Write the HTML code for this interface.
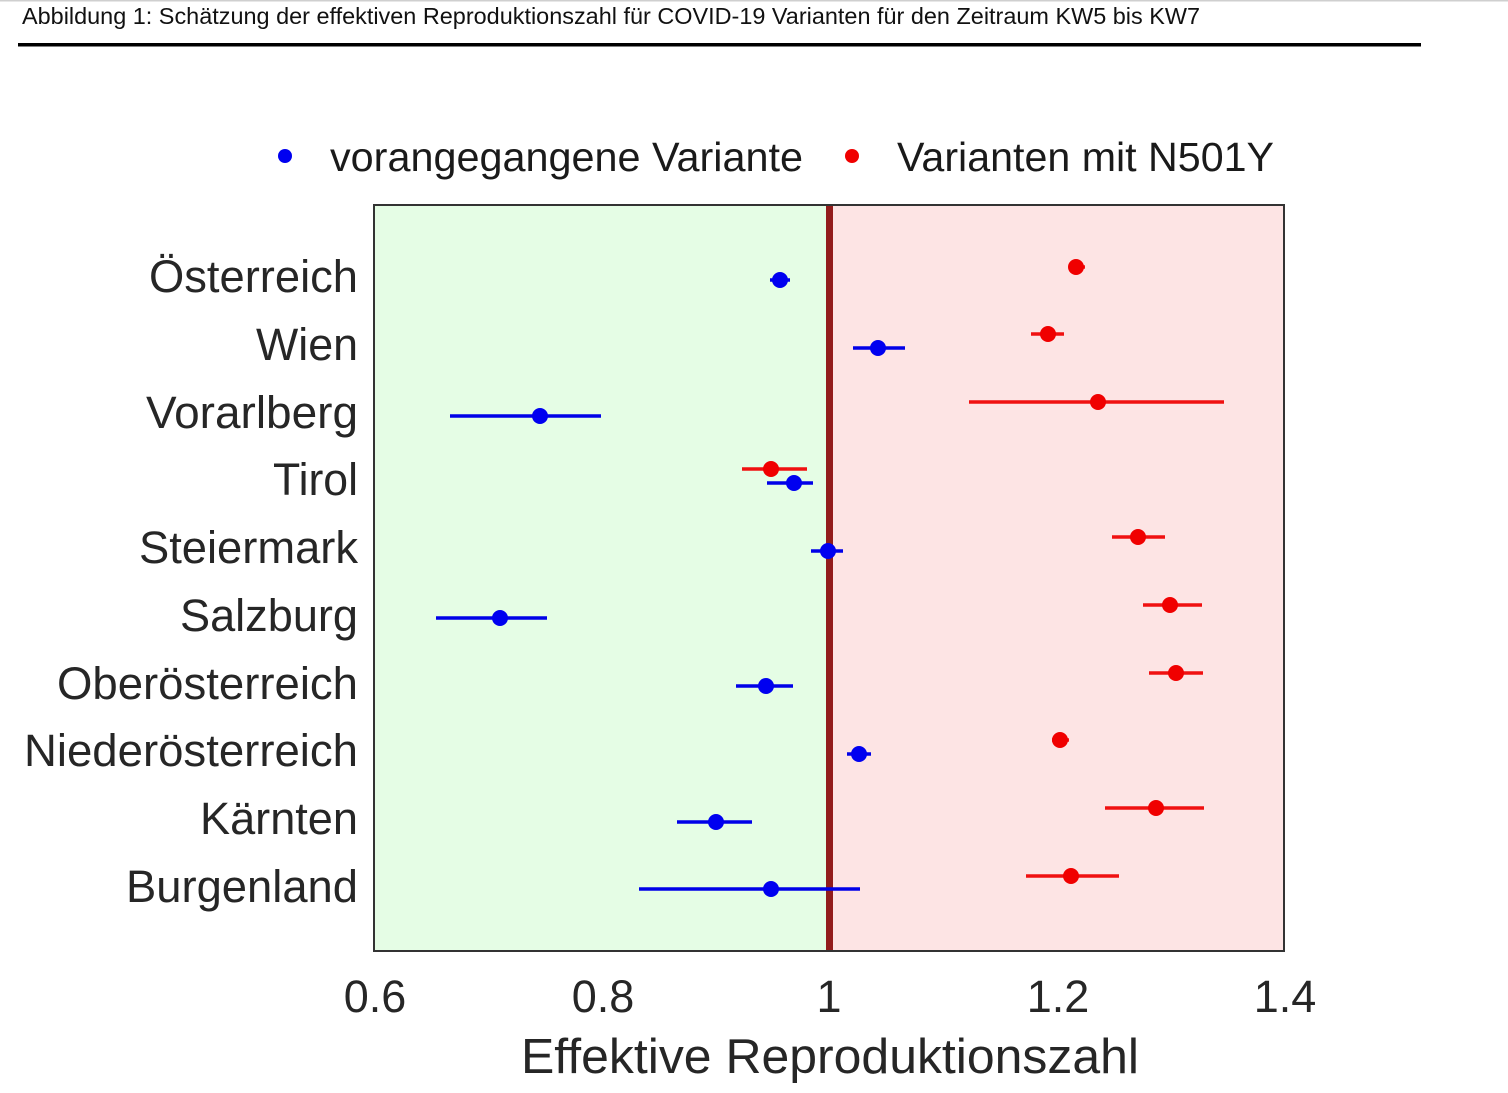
<!DOCTYPE html>
<html>
<head>
<meta charset="utf-8">
<style>
  html, body { margin: 0; padding: 0; background: #ffffff; }
  body { width: 1508px; height: 1093px; overflow: hidden; }
  svg { display: block; }
  text { font-family: "Liberation Sans", Arial, sans-serif; }
</style>
</head>
<body>
<svg width="1508" height="1093" viewBox="0 0 1508 1093" xmlns="http://www.w3.org/2000/svg">
  <rect x="0" y="0" width="1508" height="1093" fill="#ffffff"/>
  <!-- top thin gray line -->
  <rect x="0" y="0" width="1508" height="1.5" fill="#cfcfcf"/>
  <!-- title -->
  <text x="22" y="24" font-size="23" fill="#111111" textLength="1178" lengthAdjust="spacingAndGlyphs">Abbildung 1: Schätzung der effektiven Reproduktionszahl für COVID-19 Varianten für den Zeitraum KW5 bis KW7</text>
  <rect x="18" y="43" width="1403" height="3.5" fill="#000000"/>

  <!-- legend -->
  <circle cx="285" cy="156" r="7" fill="#0000f0"/>
  <text x="330" y="171" font-size="41" fill="#1a1a1a" textLength="473" lengthAdjust="spacingAndGlyphs">vorangegangene Variante</text>
  <circle cx="852" cy="156" r="7" fill="#f00000"/>
  <text x="897" y="171" font-size="41" fill="#1a1a1a" textLength="377" lengthAdjust="spacingAndGlyphs">Varianten mit N501Y</text>

  <!-- plot backgrounds -->
  <rect x="374" y="205" width="455.5" height="746" fill="#e5fde5"/>
  <rect x="829.5" y="205" width="454.5" height="746" fill="#fde4e4"/>
  <!-- reference line -->
  <rect x="826" y="205" width="7" height="746" fill="#931c1c"/>
  <!-- frame -->
  <rect x="374" y="205" width="910" height="746" fill="none" stroke="#333333" stroke-width="2"/>

  <!-- error bars: blue -->
  <g stroke="#0000e8" stroke-width="3.5" fill="none">
    <line x1="770" y1="280" x2="790" y2="280"/>
    <line x1="853" y1="348" x2="905" y2="348"/>
    <line x1="450" y1="416" x2="601" y2="416"/>
    <line x1="767" y1="483" x2="813" y2="483"/>
    <line x1="811" y1="551" x2="843" y2="551"/>
    <line x1="436" y1="618" x2="547" y2="618"/>
    <line x1="736" y1="686" x2="793" y2="686"/>
    <line x1="847" y1="754" x2="871" y2="754"/>
    <line x1="677" y1="822" x2="752" y2="822"/>
    <line x1="639" y1="889" x2="860" y2="889"/>
  </g>
  <g fill="#0000f0">
    <circle cx="780" cy="280" r="8"/>
    <circle cx="878" cy="348" r="8"/>
    <circle cx="540" cy="416" r="8"/>
    <circle cx="794" cy="483" r="8"/>
    <circle cx="828" cy="551" r="8"/>
    <circle cx="500" cy="618" r="8"/>
    <circle cx="766" cy="686" r="8"/>
    <circle cx="859" cy="754" r="8"/>
    <circle cx="716" cy="822" r="8"/>
    <circle cx="771" cy="889" r="8"/>
  </g>

  <!-- error bars: red -->
  <g stroke="#f01010" stroke-width="3.5" fill="none">
    <line x1="1069" y1="267" x2="1085" y2="267"/>
    <line x1="1031" y1="334" x2="1064" y2="334"/>
    <line x1="969" y1="402" x2="1224" y2="402"/>
    <line x1="742" y1="469" x2="807" y2="469"/>
    <line x1="1112" y1="537" x2="1165" y2="537"/>
    <line x1="1143" y1="605" x2="1202" y2="605"/>
    <line x1="1149" y1="673" x2="1203" y2="673"/>
    <line x1="1052" y1="740" x2="1069" y2="740"/>
    <line x1="1105" y1="808" x2="1204" y2="808"/>
    <line x1="1026" y1="876" x2="1119" y2="876"/>
  </g>
  <g fill="#f00000">
    <circle cx="1076" cy="267" r="8"/>
    <circle cx="1048" cy="334" r="8"/>
    <circle cx="1098" cy="402" r="8"/>
    <circle cx="771" cy="469" r="8"/>
    <circle cx="1138" cy="537" r="8"/>
    <circle cx="1170" cy="605" r="8"/>
    <circle cx="1176" cy="673" r="8"/>
    <circle cx="1060" cy="740" r="8"/>
    <circle cx="1156" cy="808" r="8"/>
    <circle cx="1071" cy="876" r="8"/>
  </g>

  <!-- y labels -->
  <g font-size="45" fill="#262626" lengthAdjust="spacingAndGlyphs">
    <text x="149" y="292" textLength="209" lengthAdjust="spacingAndGlyphs">Österreich</text>
    <text x="256" y="360" textLength="102" lengthAdjust="spacingAndGlyphs">Wien</text>
    <text x="146" y="428" textLength="212" lengthAdjust="spacingAndGlyphs">Vorarlberg</text>
    <text x="273" y="495" textLength="85" lengthAdjust="spacingAndGlyphs">Tirol</text>
    <text x="139" y="563" textLength="219" lengthAdjust="spacingAndGlyphs">Steiermark</text>
    <text x="180" y="631" textLength="178" lengthAdjust="spacingAndGlyphs">Salzburg</text>
    <text x="57" y="699" textLength="301" lengthAdjust="spacingAndGlyphs">Oberösterreich</text>
    <text x="24" y="766" textLength="334" lengthAdjust="spacingAndGlyphs">Niederösterreich</text>
    <text x="200" y="834" textLength="158" lengthAdjust="spacingAndGlyphs">Kärnten</text>
    <text x="126" y="902" textLength="232" lengthAdjust="spacingAndGlyphs">Burgenland</text>
  </g>

  <!-- x tick labels -->
  <g font-size="45" fill="#262626" text-anchor="middle">
    <text x="375" y="1012">0.6</text>
    <text x="603" y="1012">0.8</text>
    <text x="829" y="1012">1</text>
    <text x="1058" y="1012">1.2</text>
    <text x="1285" y="1012">1.4</text>
  </g>

  <!-- x axis label -->
  <text x="521" y="1073" font-size="49" fill="#262626" textLength="618" lengthAdjust="spacingAndGlyphs">Effektive Reproduktionszahl</text>
</svg>
</body>
</html>
